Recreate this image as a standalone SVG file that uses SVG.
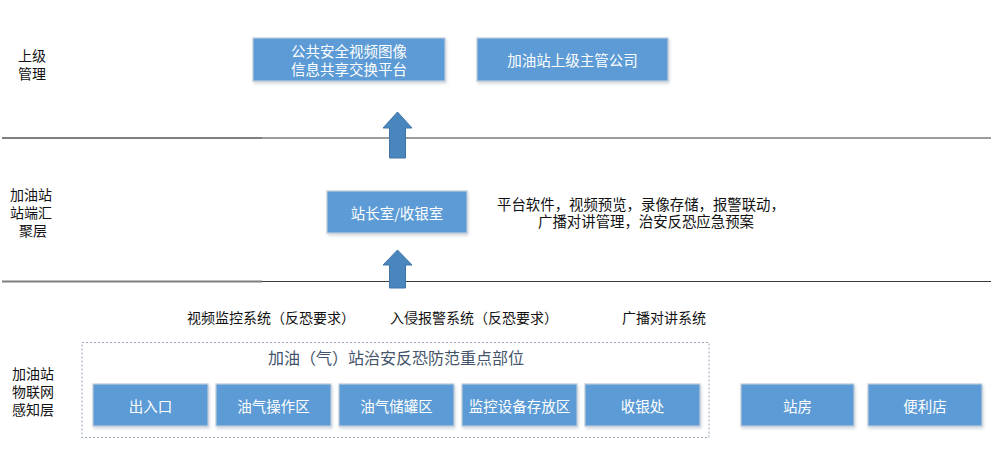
<svg xmlns="http://www.w3.org/2000/svg" width="994" height="458" viewBox="0 0 994 458">
<defs>
<style>
.box{fill:#5b9bd5;stroke:#bfcbd9;stroke-width:1.2;filter:url(#sh)}
.bt{font-family:"Noto Sans CJK SC","Microsoft YaHei",sans-serif;font-size:14.5px;fill:#ffffff;text-anchor:middle;dominant-baseline:central}
.lab{font-family:"Noto Sans CJK SC","Microsoft YaHei",sans-serif;font-size:14px;fill:#111111;text-anchor:middle;dominant-baseline:central}
.arrow{fill:#4a86be;stroke:#3f74a8;stroke-width:1}
.sep1{stroke:#7f7f7f;stroke-width:2}
.sep2{stroke:#3a3a3a;stroke-width:1.2}
</style>
<filter id="sh" x="-10%" y="-10%" width="125%" height="135%">
<feDropShadow dx="1" dy="2" stdDeviation="1.5" flood-color="#7a8ea6" flood-opacity="0.35"/>
</filter>
</defs>
<rect width="994" height="458" fill="#ffffff"/>

<g id="separators">
<line class="sep1" x1="2" y1="138" x2="262" y2="138"/>
<line class="sep2" x1="262" y1="138" x2="991" y2="138"/>
<line class="sep1" x1="2" y1="281.5" x2="262" y2="281.5"/>
<line class="sep2" x1="262" y1="281.5" x2="991" y2="281.5"/>
</g>

<g id="layer-labels">
<text class="lab" x="32" y="55">上级</text>
<text class="lab" x="32" y="73">管理</text>
<text class="lab" x="31" y="194">加油站</text>
<text class="lab" x="31" y="212">站端汇</text>
<text class="lab" x="33" y="230">聚层</text>
<text class="lab" x="33" y="373">加油站</text>
<text class="lab" x="33" y="391">物联网</text>
<text class="lab" x="33" y="409">感知层</text>
</g>

<g id="node-platform">
<rect class="box" x="253" y="38" width="192" height="43"/>
<text class="bt" x="349" y="50">公共安全视频图像</text>
<text class="bt" x="349" y="68">信息共享交换平台</text>
</g>
<g id="node-company">
<rect class="box" x="477" y="38" width="191" height="43"/>
<text class="bt" x="572.5" y="59.5">加油站上级主管公司</text>
</g>

<g id="node-station-room">
<rect class="box" x="327" y="191" width="140" height="42"/>
<text class="bt" x="397" y="212">站长室/收银室</text>
</g>
<g id="station-desc">
<text class="lab" x="641" y="203" style="font-size:14.4px">平台软件，视频预览，录像存储，报警联动，</text>
<text class="lab" x="646" y="220" style="font-size:14.4px">广播对讲管理，治安反恐应急预案</text>
</g>

<g id="connectors">
<polygon class="arrow" points="397.5,112 412,128 405.5,128 405.5,158 389.5,158 389.5,128 383,128"/>
<polygon class="arrow" points="397.5,250 412,265 405.5,265 405.5,288 389.5,288 389.5,265 383,265"/>
</g>

<g id="system-labels">
<text class="lab" x="271" y="317">视频监控系统（反恐要求）</text>
<text class="lab" x="474" y="317">入侵报警系统（反恐要求）</text>
<text class="lab" x="664" y="317">广播对讲系统</text>
</g>

<g id="group-key-areas">
<rect x="82" y="342.5" width="627" height="95" fill="none" stroke="#9aa9ba" stroke-width="1" stroke-dasharray="2,2"/>
<text x="396" y="357" style="font-family:'Noto Sans CJK SC','Microsoft YaHei',sans-serif;font-size:16px;fill:#44546a;text-anchor:middle;dominant-baseline:central">加油（气）站治安反恐防范重点部位</text>
</g>

<g id="node-entrance">
<rect class="box" x="93" y="384" width="115" height="42"/>
<text class="bt" x="150.5" y="405">出入口</text>
</g>
<g id="node-fuel-op">
<rect class="box" x="216" y="384" width="115" height="42"/>
<text class="bt" x="273.5" y="405">油气操作区</text>
</g>
<g id="node-tank">
<rect class="box" x="339" y="384" width="115" height="42"/>
<text class="bt" x="396.5" y="405">油气储罐区</text>
</g>
<g id="node-monitor-storage">
<rect class="box" x="462" y="384" width="115" height="42"/>
<text class="bt" x="519.5" y="405">监控设备存放区</text>
</g>
<g id="node-cashier">
<rect class="box" x="585" y="384" width="115" height="42"/>
<text class="bt" x="642.5" y="405">收银处</text>
</g>

<g id="node-station-house">
<rect class="box" x="741" y="384" width="113" height="42"/>
<text class="bt" x="797.5" y="405">站房</text>
</g>
<g id="node-store">
<rect class="box" x="868" y="384" width="114" height="42"/>
<text class="bt" x="925" y="405">便利店</text>
</g>
</svg>
